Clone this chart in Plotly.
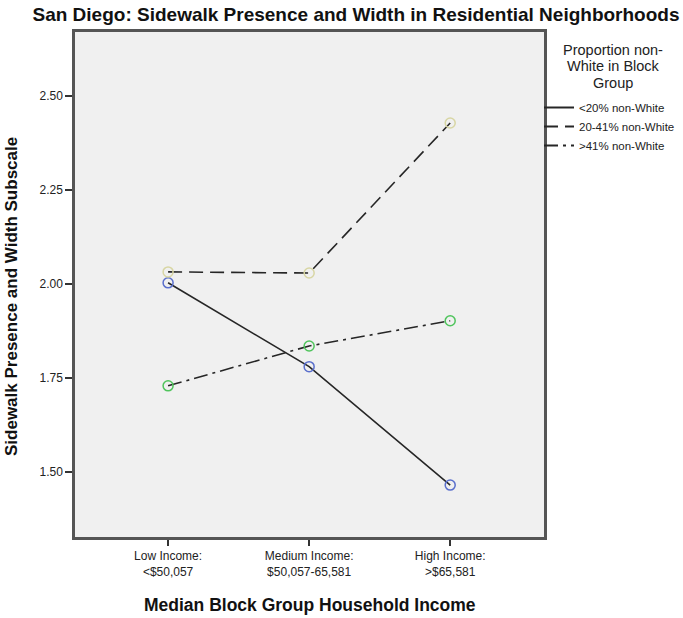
import plotly.graph_objects as go

categories = ["Low Income:<br><$50,057", "Medium Income:<br>$50,057-65,581", "High Income:<br>>$65,581"]
series_names = ["<20% non-White", "20-41% non-White", ">41% non-White"]
lt20 = [2.003, 1.780, 1.465]
mid = [2.032, 2.029, 2.428]
gt41 = [1.729, 1.835, 1.902]
y_ticks = [1.50, 1.75, 2.00, 2.25, 2.50]
legend_title_lines = ["Proportion non-", "White in Block", "Group"]

series_vals = [lt20, mid, gt41]
marker_colors = ["#5a6fcc", "#d8d6a4", "#4fc45c"]
dashes = ["solid", "14px,7px", "14px,5px,3px,5px"]

FONT = "Liberation Sans, Arial, sans-serif"
W, H = 683, 618
x_idx = list(range(len(categories)))

fig = go.Figure()
for name, vals, mc, d in zip(series_names, series_vals, marker_colors, dashes):
    fig.add_trace(go.Scatter(
        x=x_idx, y=vals, mode="lines+markers", showlegend=False,
        line=dict(color="#262626", width=1.6, dash=d),
        marker=dict(symbol="circle-open", size=10, color=mc, line=dict(width=1.5, color=mc)),
    ))
for name, d in zip(series_names, dashes):
    fig.add_trace(go.Scatter(
        x=[None], y=[None], mode="lines", name=name,
        line=dict(color="#262626", width=2, dash=d),
    ))

fig.update_layout(
    width=W, height=H,
    margin=dict(l=75, r=139, t=32, b=81, autoexpand=False),
    paper_bgcolor="white", plot_bgcolor="#f0f0f0",
    font=dict(family=FONT, color="#222222", size=12),
    title=dict(text="<b>San Diego: Sidewalk Presence and Width in Residential Neighborhoods</b>",
               x=356 / W, xref="container", xanchor="center", y=1 - 14 / H, yanchor="middle",
               font=dict(size=19, family=FONT, color="#111111")),
    legend=dict(x=539 / W, xref="container", xanchor="left", y=1 - 93 / H, yref="container",
                yanchor="top", bgcolor="rgba(0,0,0,0)",
                font=dict(size=11.5, family=FONT, color="#222222"), itemwidth=30,
                tracegroupgap=0, traceorder="normal"),
    showlegend=True,
)
for i, line in enumerate(legend_title_lines):
    fig.add_annotation(text=line, xref="paper", yref="paper",
                       x=(613 - 75) / (544 - 75), y=(537 - (50 + 16.5 * i)) / (537 - 32),
                       xanchor="center", yanchor="middle", showarrow=False,
                       font=dict(size=14.5, family=FONT, color="#222222"))
# axis titles
fig.add_annotation(text="<b>Median Block Group Household Income</b>", xref="paper", yref="paper",
                   x=(310 - 75) / (544 - 75), y=(537 - 605) / (537 - 32),
                   xanchor="center", yanchor="middle", showarrow=False,
                   font=dict(size=17.5, family=FONT, color="#111111"))
fig.add_annotation(text="<b>Sidewalk Presence and Width Subscale</b>", xref="paper", yref="paper",
                   x=(11 - 75) / (544 - 75), y=(537 - 297) / (537 - 32), textangle=-90,
                   xanchor="center", yanchor="middle", showarrow=False,
                   font=dict(size=17, family=FONT, color="#111111"))

fig.update_xaxes(
    range=[-0.66, 2.665], tickvals=x_idx, ticktext=categories, automargin=False,
    ticks="outside", ticklen=6, tickcolor="#333", tickwidth=1.5,
    showgrid=False, zeroline=False,
    showline=True, linecolor="#555555", linewidth=2.5, mirror=True,
    tickfont=dict(size=12, family=FONT, color="#222222"),
)
fig.update_yaxes(
    range=[1.327, 2.670], tickvals=y_ticks, ticktext=[f"{v:.2f}" for v in y_ticks], automargin=False,
    ticks="outside", ticklen=7, tickcolor="#333", tickwidth=1.5,
    showgrid=False, zeroline=False,
    showline=True, linecolor="#555555", linewidth=2.5, mirror=True,
    tickfont=dict(size=12, family=FONT, color="#222222"),
)

fig.write_html("out.html", config={"displayModeBar": False},
               post_script="document.body.style.margin='0';document.body.style.padding='0';")
